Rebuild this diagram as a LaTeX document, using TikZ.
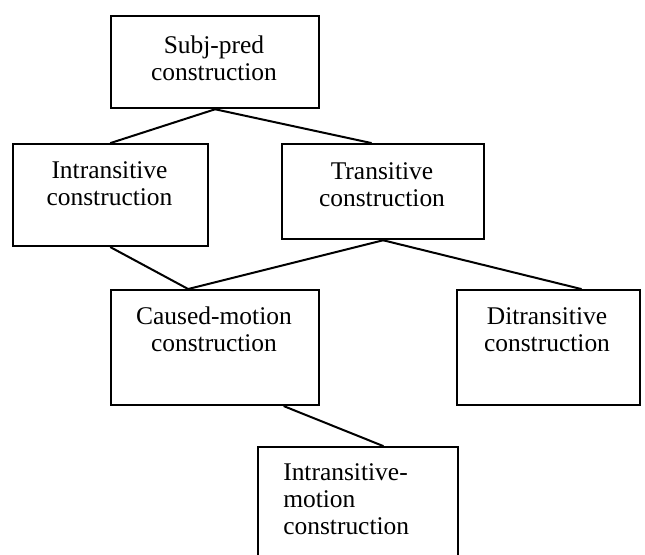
\documentclass[tikz,border=0pt]{standalone}
\usepackage{fontspec}
\setmainfont{Liberation Serif}
\usetikzlibrary{calc}
\begin{document}
\begin{tikzpicture}[x=0.75pt,y=-0.75pt,
  cbox/.style={draw=black, line width=1.7pt, rectangle, inner sep=0pt, anchor=north west},
  lbl/.style={inner sep=0pt, align=center, anchor=north, font=\fontsize{19.1pt}{20.25pt}\selectfont},
  link/.style={line width=1.5pt, line cap=round}]
\clip (0,0) rectangle (645,555);
\fill[white] (0,0) rectangle (645,555);

% boxes
\node[cbox, minimum width=156pt, minimum height=69pt] (subj) at (110,15) {};
\node[cbox, minimum width=146.25pt, minimum height=76.5pt] (intr) at (12,143) {};
\node[cbox, minimum width=151.5pt, minimum height=71.25pt] (trans) at (281,143) {};
\node[cbox, minimum width=156pt, minimum height=86.25pt] (caused) at (110,289) {};
\node[cbox, minimum width=137.25pt, minimum height=86.25pt] (ditr) at (456,289) {};
\node[cbox, minimum width=150pt, minimum height=90pt] (imot) at (257,446) {};

% labels
\node[lbl] (subjt) at (214,36) {Subj-pred\\construction};
\node[lbl] (intrt) at (109.5,161) {Intransitive\\construction};
\node[lbl] (transt) at (382,162) {Transitive\\construction};
\node[lbl] (causedt) at (214,307) {Caused-motion\\construction};
\node[lbl] (ditrt) at (547,307) {Ditransitive\\construction};
\node[lbl, align=left, anchor=north west] (imott) at (283,463) {Intransitive-\\motion\\construction};

% links
\draw[link] (subj.south) -- (intr.north);
\draw[link] (subj.south) -- ($(trans.north)+(-12,0)$);
\draw[link] (intr.south) -- ($(caused.north)+(-27,0)$);
\draw[link] (trans.south) -- ($(caused.north)+(-27,0)$);
\draw[link] (trans.south) -- ($(ditr.north)+(32.5,0)$);
\draw[link] ($(caused.south)+(69,0)$) -- ($(imot.north)+(25,0)$);
\end{tikzpicture}
\end{document}
